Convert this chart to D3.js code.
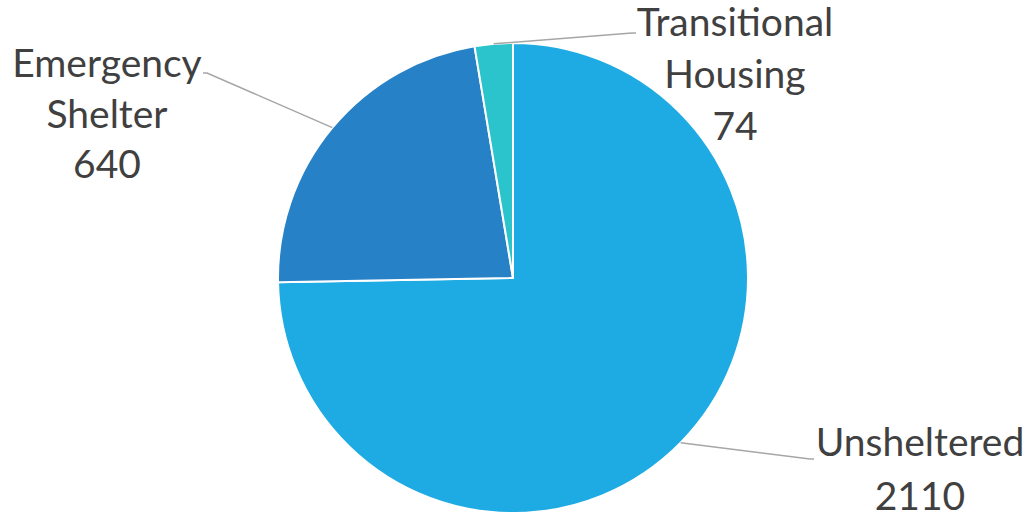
<!DOCTYPE html>
<html>
<head>
<meta charset="utf-8">
<script src="https://cdn.jsdelivr.net/npm/d3@7"></script>
<style>
  html, body { margin: 0; padding: 0; background: #fff; }
  svg { display: block; }
  .label { font-family: Lato, "Open Sans", sans-serif; fill: #404040; }
</style>
</head>
<body>
<div id="chart"></div>
<script>
const categories = ["Unsheltered", "Emergency Shelter", "Transitional Housing"];
const values = [2110, 640, 74];
const colors = ["#1eaae2", "#2681c6", "#2bc4cc"];

// label text lines and where each label block sits (layout only)
const labelLines = [["Unsheltered", "2110"], ["Emergency", "Shelter", "640"], ["Transitional", "Housing", "74"]];
const labelLayout = [
  { x: 920, y: 456, gap: 54, elbow: [810, 459], end: [814, 459] },
  { x: 107, y: 77, gap: 50.5, elbow: [207, 73], end: [203, 73] },
  { x: 735, y: 36, gap: 52, elbow: [632, 33], end: [636, 33] },
];

const width = 1033;
const height = 518;
const cx = 513;
const cy = 278;
const radius = 235;
const fontSize = 39;

const data = categories.map((name, i) => ({ name, value: values[i], color: colors[i] }));

const pie = d3.pie().sort(null).value((d) => d.value);
const arc = d3.arc().innerRadius(0).outerRadius(radius);

const svg = d3
  .select("#chart")
  .append("svg")
  .attr("width", width)
  .attr("height", height);

const g = svg.append("g").attr("transform", `translate(${cx},${cy})`);

const arcs = pie(data);

g.selectAll(".slice")
  .data(arcs)
  .join("path")
  .attr("class", "slice")
  .attr("d", arc)
  .attr("fill", (d) => d.data.color)
  .attr("stroke", "#fff")
  .attr("stroke-width", 2)
  .attr("stroke-linejoin", "round");

// leader lines from the slice edge at mid angle to the label
svg
  .selectAll(".leader")
  .data(arcs)
  .join("polyline")
  .attr("class", "leader")
  .attr("fill", "none")
  .attr("stroke", "#a6a6a6")
  .attr("stroke-width", 1.5)
  .attr("points", (d, i) => {
    const a = (d.startAngle + d.endAngle) / 2;
    const x0 = cx + radius * Math.sin(a);
    const y0 = cy - radius * Math.cos(a);
    const lay = labelLayout[i];
    return [[x0, y0], lay.elbow, lay.end].map((p) => p.join(",")).join(" ");
  });

const labels = svg
  .selectAll(".label")
  .data(arcs)
  .join("text")
  .attr("class", "label")
  .attr("text-anchor", "middle")
  .attr("font-size", fontSize)
  .attr("x", (d, i) => labelLayout[i].x)
  .attr("y", (d, i) => labelLayout[i].y);

labels
  .selectAll("tspan")
  .data((d, i) => labelLines[i].map((t) => ({ t, x: labelLayout[i].x, gap: labelLayout[i].gap })))
  .join("tspan")
  .attr("x", (d) => d.x)
  .attr("dy", (d, j) => (j === 0 ? 0 : d.gap))
  .text((d) => d.t);
</script>
</body>
</html>
